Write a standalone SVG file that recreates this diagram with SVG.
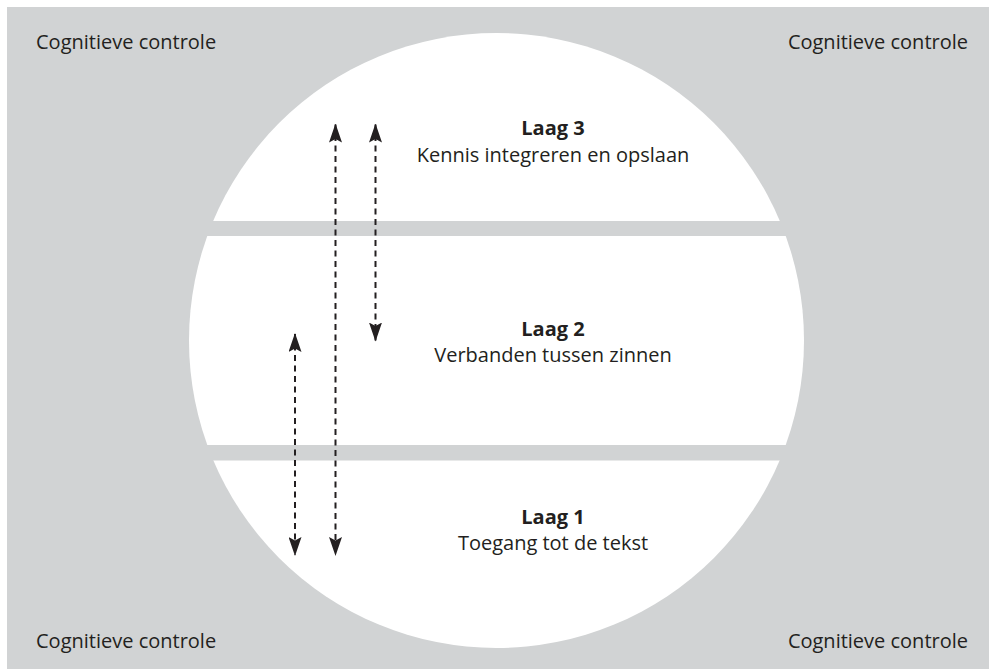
<svg xmlns="http://www.w3.org/2000/svg" width="989" height="669" viewBox="0 0 989 669">
  <defs>
    <style>
      .bg { fill: #d1d3d4; }
      .lbl { font-family: "Open Sans", "Liberation Sans", sans-serif; font-size: 20px; fill: #231f20; }
      .title { font-family: "Open Sans", "Liberation Sans", sans-serif; font-size: 20px; font-weight: bold; fill: #231f20; }
      .arrow { stroke: #231f20; stroke-width: 2; stroke-dasharray: 6 4.5; fill: none; marker-start: url(#head); marker-end: url(#head); }
    </style>
    <marker id="head" viewBox="0 0 19 13" refX="18" refY="6.5" markerWidth="19" markerHeight="13" markerUnits="userSpaceOnUse" orient="auto-start-reverse">
      <path d="M0,0 L19,6.5 L0,13 L3.5,6.5 Z" fill="#231f20"/>
    </marker>
  </defs>
  <rect width="989" height="669" fill="#ffffff"/>
  <rect class="bg" x="7" y="7" width="982" height="662"/>

  <g id="circle">
    <circle cx="496.5" cy="340.5" r="307.5" fill="#ffffff"/>
    <rect class="bg" x="150" y="221" width="700" height="15"/>
    <rect class="bg" x="150" y="445" width="700" height="15.5"/>
  </g>

  <g id="corner-tl"><text class="lbl" x="36" y="49">Cognitieve controle</text></g>
  <g id="corner-tr"><text class="lbl" x="968" y="49" text-anchor="end">Cognitieve controle</text></g>
  <g id="corner-bl"><text class="lbl" x="36" y="648">Cognitieve controle</text></g>
  <g id="corner-br"><text class="lbl" x="968" y="648" text-anchor="end">Cognitieve controle</text></g>

  <g id="laag3">
    <text class="title" x="553" y="135" text-anchor="middle">Laag 3</text>
    <text class="lbl" x="553" y="162" text-anchor="middle">Kennis integreren en opslaan</text>
  </g>
  <g id="laag2">
    <text class="title" x="553" y="336" text-anchor="middle">Laag 2</text>
    <text class="lbl" x="553" y="362" text-anchor="middle">Verbanden tussen zinnen</text>
  </g>
  <g id="laag1">
    <text class="title" x="553" y="524" text-anchor="middle">Laag 1</text>
    <text class="lbl" x="553" y="550" text-anchor="middle">Toegang tot de tekst</text>
  </g>

  <g id="connectors">
    <line class="arrow" x1="295" y1="334" x2="295" y2="555"/>
    <line class="arrow" x1="335.5" y1="124.5" x2="335.5" y2="555"/>
    <line class="arrow" x1="375.5" y1="124.5" x2="375.5" y2="340.5"/>
  </g>
</svg>
